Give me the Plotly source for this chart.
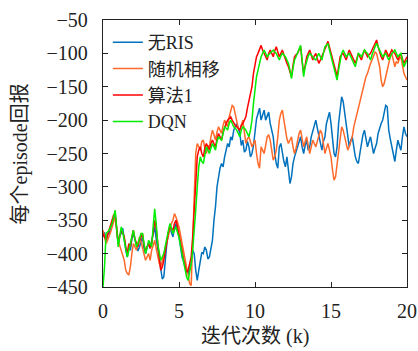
import plotly.graph_objects as go

no_ris = [-375, -368, -380, -372, -370, -362, -355, -345, -340, -365,
          -385, -372, -370, -362, -380, -395, -405, -388, -395, -378,
          -370, -380, -385, -396, -390, -382, -375, -392, -400, -390,
          -385, -392, -380, -372, -360, -378, -395, -412, -425, -438,
          -435, -405, -385, -370, -360, -368, -375, -362, -355, -366,
          -375, -390, -405, -412, -420, -428, -430, -420, -415, -395,
          -400, -425, -440, -425, -410, -398, -400, -390, -395, -408,
          -405, -392, -380, -350, -330, -300, -285, -272, -265, -270,
          -255, -245, -235, -240, -225, -230, -215, -210, -205, -212,
          -220, -238, -230, -248, -245, -232, -240, -255, -250, -238,
          -215, -198, -190, -182, -200, -192, -185, -200, -195, -188,
          -205, -215, -225, -250, -265, -272, -240, -235, -250, -262,
          -270, -255, -275, -295, -285, -265, -255, -248, -240, -232,
          -225, -240, -250, -238, -230, -245, -240, -225, -215, -205,
          -200, -212, -225, -238, -245, -232, -225, -205, -195, -188,
          -205, -228, -250, -255, -240, -205, -185, -165, -172, -190,
          -210, -228, -240, -230, -225, -240, -255, -262, -265, -250,
          -235, -222, -215, -230, -240, -232, -225, -238, -250, -242,
          -235, -220, -210, -205, -200, -190, -178, -180, -215, -228,
          -240, -255, -262, -245, -230, -238, -245, -225, -210, -220,
          -225]

random_phase = [-365, -378, -385, -380, -375, -368, -360, -350, -345, -362,
                -380, -388, -395, -402, -410, -425, -430, -432, -420, -400,
                -385, -390, -395, -385, -375, -382, -390, -402, -410, -405,
                -400, -410, -395, -388, -380, -392, -405, -415, -420, -410,
                -400, -390, -380, -372, -365, -355, -350, -340, -345, -352,
                -360, -372, -385, -398, -410, -425, -435, -445, -448, -380,
                -300, -250, -235, -240, -245, -232, -230, -242, -250, -238,
                -240, -225, -215, -222, -230, -218, -210, -215, -220, -208,
                -200, -205, -210, -195, -185, -178, -180, -192, -205, -212,
                -215, -205, -200, -218, -235, -228, -225, -232, -240, -235,
                -230, -250, -265, -272, -240, -245, -250, -238, -225, -222,
                -230, -245, -260, -255, -245, -225, -200, -190, -185, -200,
                -215, -228, -235, -230, -225, -240, -250, -242, -230, -220,
                -215, -228, -240, -232, -225, -238, -250, -240, -230, -235,
                -240, -232, -225, -215, -220, -238, -250, -242, -235, -245,
                -255, -275, -290, -285, -265, -245, -225, -210, -215, -225,
                -235, -245, -240, -232, -225, -210, -200, -192, -185, -175,
                -165, -150, -140, -135, -130, -120, -115, -110, -105, -98,
                -100, -110, -120, -140, -150, -145, -135, -120, -110, -105,
                -100, -110, -120, -112, -115, -108, -105, -118, -130, -135,
                -140]

algorithm1 = [-370, -375, -380, -372, -365, -358, -350, -342, -340, -362,
              -385, -375, -365, -368, -375, -390, -400, -385, -390, -375,
              -365, -378, -385, -390, -380, -376, -370, -388, -395, -390,
              -385, -392, -385, -368, -350, -362, -380, -405, -425, -420,
              -410, -395, -380, -368, -360, -362, -365, -355, -350, -360,
              -370, -382, -395, -408, -420, -428, -425, -415, -405, -375,
              -330, -285, -255, -245, -240, -250, -255, -242, -235, -240,
              -245, -235, -230, -235, -240, -228, -220, -225, -230, -218,
              -210, -205, -200, -198, -195, -200, -205, -208, -210, -212,
              -215, -208, -205, -200, -195, -182, -170, -160, -150, -130,
              -115, -105, -100, -92, -88, -95, -100, -106, -110, -100,
              -95, -100, -105, -96, -90, -98, -105, -100, -95, -102,
              -110, -115, -120, -128, -135, -118, -105, -102, -100, -95,
              -90, -112, -130, -118, -105, -100, -95, -102, -110, -104,
              -100, -108, -115, -110, -105, -100, -95, -88, -82, -90,
              -100, -108, -115, -125, -135, -120, -105, -102, -100, -105,
              -110, -102, -95, -100, -105, -110, -115, -108, -100, -105,
              -110, -102, -95, -100, -105, -102, -100, -95, -90, -85,
              -80, -90, -100, -105, -110, -102, -95, -100, -105, -100,
              -95, -98, -100, -105, -110, -104, -100, -108, -115, -110,
              -105]

dqn = [-450, -420, -370, -368, -365, -360, -355, -345, -335, -362,
       -390, -375, -360, -368, -380, -395, -405, -395, -385, -372,
       -365, -378, -390, -385, -375, -370, -370, -388, -400, -392,
       -380, -385, -390, -360, -333, -355, -385, -398, -410, -405,
       -400, -388, -375, -362, -355, -362, -370, -365, -360, -368,
       -375, -388, -400, -412, -425, -435, -440, -428, -415, -395,
       -370, -335, -300, -270, -255, -262, -265, -250, -240, -245,
       -250, -242, -235, -240, -245, -232, -225, -228, -230, -220,
       -210, -212, -215, -205, -200, -205, -210, -212, -215, -220,
       -225, -215, -210, -212, -215, -220, -225, -215, -200, -175,
       -150, -135, -125, -112, -105, -100, -95, -100, -105, -102,
       -100, -98, -95, -98, -100, -105, -110, -104, -100, -102,
       -105, -110, -115, -125, -138, -122, -110, -105, -100, -94,
       -88, -110, -135, -120, -110, -104, -100, -102, -105, -108,
       -110, -104, -100, -105, -110, -100, -90, -88, -85, -95,
       -105, -112, -120, -130, -140, -125, -110, -100, -95, -100,
       -105, -102, -100, -105, -110, -115, -120, -110, -100, -102,
       -105, -100, -95, -98, -100, -105, -110, -102, -95, -90,
       -85, -90, -95, -100, -105, -102, -100, -105, -110, -105,
       -100, -98, -95, -100, -105, -102, -100, -110, -120, -115,
       -110]

iterations_k = [round(0.1 * i, 1) for i in range(len(no_ris))]

series_names = ["无RIS", "随机相移", "算法1", "DQN"]
series_values = [no_ris, random_phase, algorithm1, dqn]
series_colors = ["#0072BD", "#FF6A2A", "#FF0000", "#00EE00"]

x_ticks = [0, 5, 10, 15, 20]
y_ticks = [-450, -400, -350, -300, -250, -200, -150, -100, -50]

FONT = "Liberation Serif, Noto Sans CJK SC, serif"
TXT = "#222"

fig = go.Figure()
for name, vals, col in zip(series_names, series_values, series_colors):
    fig.add_trace(go.Scatter(x=iterations_k, y=vals, mode="lines", name=name,
                             line=dict(color=col, width=1.5)))

axis_common = dict(showline=True, linecolor=TXT, linewidth=1.3, mirror="ticks",
                   ticks="inside", ticklen=5, tickwidth=1, tickcolor=TXT,
                   showgrid=False, zeroline=False, automargin=False,
                   tickfont=dict(family=FONT, size=20, color=TXT))

fig.update_layout(
    width=418, height=351,
    margin=dict(l=103, r=11, t=20, b=64),
    paper_bgcolor="white", plot_bgcolor="white",
    font=dict(family=FONT, color=TXT),
    showlegend=True,
    legend=dict(x=0.016, y=0.985, xanchor="left", yanchor="top",
                bgcolor="rgba(0,0,0,0)", borderwidth=0,
                font=dict(family=FONT, size=18, color=TXT),
                tracegroupgap=0, itemwidth=30),
    xaxis=dict(range=[0, 20], tickvals=x_ticks, ticklabelstandoff=6, **axis_common),
    yaxis=dict(range=[-450, -50], tickvals=y_ticks, ticklabelstandoff=10, **axis_common),
    annotations=[
        dict(text="迭代次数 (k)", xref="paper", yref="paper", x=0.5, y=-0.185,
             xanchor="center", yanchor="middle", showarrow=False,
             font=dict(family=FONT, size=20, color=TXT)),
        dict(text="每个episode回报", xref="paper", yref="paper", x=-0.27, y=0.5,
             xanchor="center", yanchor="middle", textangle=-90, showarrow=False,
             font=dict(family=FONT, size=20, color=TXT)),
    ],
)

fig.write_html("out.html",
               config={"displayModeBar": False},
               post_script="document.body.style.margin='0';document.body.style.overflow='hidden';")
